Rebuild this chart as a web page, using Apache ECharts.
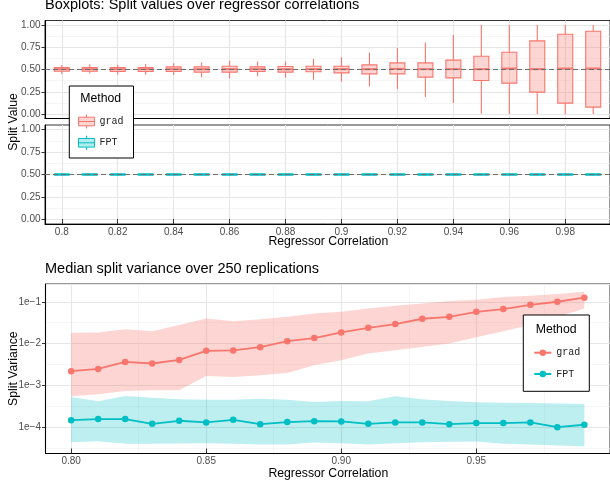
<!DOCTYPE html>
<html>
<head>
<meta charset="utf-8">
<script src="https://cdn.jsdelivr.net/npm/echarts@6/dist/echarts.min.js"></script>
<style>html,body{margin:0;padding:0;background:#fff}#c{width:610px;height:484px}</style>
</head>
<body>
<div id="c"></div>
<script>
// ---- data ----
const correlations = [0.80,0.81,0.82,0.83,0.84,0.85,0.86,0.87,0.88,0.89,0.90,0.91,0.92,0.93,0.94,0.95,0.96,0.97,0.98,0.99];

// Boxplot stats, grad
const gradLow  = [0.450,0.455,0.444,0.440,0.437,0.414,0.403,0.425,0.410,0.384,0.365,0.309,0.280,0.190,0.123,0.003,0.000,0.000,0.000,0.000];
const gradQ1   = [0.480,0.481,0.477,0.477,0.477,0.470,0.470,0.477,0.470,0.474,0.462,0.451,0.451,0.414,0.406,0.376,0.347,0.246,0.123,0.078];
const gradMed  = [0.503,0.503,0.503,0.503,0.503,0.503,0.504,0.503,0.503,0.504,0.504,0.504,0.507,0.504,0.504,0.504,0.511,0.504,0.511,0.511];
const gradQ3   = [0.522,0.522,0.522,0.522,0.530,0.530,0.537,0.530,0.533,0.537,0.537,0.552,0.574,0.574,0.605,0.649,0.694,0.821,0.896,0.929];
const gradHigh = [0.550,0.560,0.552,0.563,0.571,0.582,0.597,0.589,0.589,0.619,0.638,0.690,0.742,0.802,0.888,1.000,1.000,1.000,1.000,1.000];

// Boxplot stats, FPT
const fptLow  = [0.492,0.492,0.492,0.492,0.492,0.492,0.492,0.492,0.492,0.492,0.492,0.492,0.492,0.492,0.492,0.492,0.492,0.492,0.492,0.492];
const fptQ1   = [0.496,0.496,0.496,0.496,0.496,0.496,0.496,0.496,0.496,0.496,0.496,0.496,0.496,0.496,0.496,0.496,0.496,0.496,0.496,0.496];
const fptMed  = [0.500,0.500,0.500,0.500,0.500,0.500,0.500,0.500,0.500,0.500,0.500,0.500,0.500,0.500,0.500,0.500,0.500,0.500,0.500,0.500];
const fptQ3   = [0.504,0.504,0.504,0.504,0.504,0.504,0.504,0.504,0.504,0.504,0.504,0.504,0.504,0.504,0.504,0.504,0.504,0.504,0.504,0.504];
const fptHigh = [0.508,0.508,0.508,0.508,0.508,0.508,0.508,0.508,0.508,0.508,0.508,0.508,0.508,0.508,0.508,0.508,0.508,0.508,0.508,0.508];

// Median split variance and ribbons
const gradVar   = [2.18e-3,2.47e-3,3.64e-3,3.33e-3,4.06e-3,6.68e-3,6.83e-3,8.2e-3,1.14e-2,1.35e-2,1.85e-2,2.38e-2,2.92e-2,3.92e-2,4.36e-2,5.75e-2,6.68e-2,8.47e-2,0.100,0.125];
const gradVarLo = [5.48e-4,6.1e-4,7.3e-4,7.6e-4,7.6e-4,1.68e-3,1.59e-3,1.75e-3,1.98e-3,3.03e-3,3.98e-3,5.77e-3,6.93e-3,8.3e-3,1.0e-2,1.42e-2,1.98e-2,2.76e-2,4.3e-2,6.85e-2];
const gradVarHi = [1.81e-2,1.85e-2,2.21e-2,1.98e-2,2.76e-2,3.99e-2,3.44e-2,3.84e-2,4.36e-2,5.26e-2,5.75e-2,6.92e-2,8.0e-2,9.1e-2,0.104,0.112,0.130,0.139,0.153,0.174];
const fptVar    = [1.47e-4,1.56e-4,1.56e-4,1.2e-4,1.42e-4,1.3e-4,1.5e-4,1.18e-4,1.32e-4,1.39e-4,1.37e-4,1.2e-4,1.3e-4,1.3e-4,1.18e-4,1.25e-4,1.25e-4,1.3e-4,1.0e-4,1.14e-4];
const fptVarLo  = [4.37e-5,4.61e-5,3.99e-5,3.99e-5,4.05e-5,4.13e-5,3.99e-5,3.85e-5,3.85e-5,4.3e-5,4.13e-5,3.85e-5,4.13e-5,4.37e-5,4.46e-5,4.55e-5,3.99e-5,3.85e-5,3.64e-5,3.51e-5];
const fptVarHi  = [5.25e-4,4.14e-4,5.55e-4,5.07e-4,4.62e-4,4.54e-4,4.54e-4,4.8e-4,4.54e-4,3.98e-4,4.2e-4,4.14e-4,5.46e-4,4.62e-4,4.2e-4,3.92e-4,3.85e-4,3.78e-4,3.7e-4,3.57e-4];

// Axis breaks
const topXBreaks = [0.80,0.82,0.84,0.86,0.88,0.90,0.92,0.94,0.96,0.98];
const topYBreaks = [0,0.25,0.5,0.75,1];
const topYMinor  = [0.125,0.375,0.625,0.875];
const botXBreaks = [0.80,0.85,0.90,0.95];
const botXMinor  = [0.825,0.875,0.925,0.975];
const botYMinorExp = [-4.5,-3.5,-2.5,-1.5];
const refValue = 0.5;

// ---- styling ----
const RED = '#F8766D', CYAN = '#00BFC4';
const SANS = 'Liberation Sans', MONO = 'Liberation Mono';
const major = {color:'#E6E6E6', width:1.1};
const minor = {color:'#F2F2F2', width:0.7};
const tickCol = '#333';
const labCol = '#4D4D4D';
const TICKFS = 10;

const topXMin = 0.794, topXMax = 0.996;
const botXMin = 0.7905, botXMax = 0.9995;
const topYMin = -0.05, topYMax = 1.05;
const botYMin = 2.34e-5, botYMax = 0.266;

function topXAxis(grid, showLabels) {
  return {
    type:'value', gridIndex:grid, min:topXMin, max:topXMax,
    axisLine:{show:true, onZero:false, lineStyle:{color:'#000', width:1.1}},
    axisTick:{show:showLabels, inside:true, length:5, customValues:topXBreaks, lineStyle:{color:tickCol}},
    axisLabel:{show:showLabels, customValues:topXBreaks, margin:3, color:labCol, fontSize:TICKFS, fontFamily:SANS,
      formatter: v => String(parseFloat(Number(v).toFixed(2)))},
    splitLine:{show:true, lineStyle:major}
  };
}
function topYAxis(grid) {
  return {
    type:'value', gridIndex:grid, min:topYMin, max:topYMax,
    axisLine:{show:true, onZero:false, lineStyle:{color:'#000', width:1.1}},
    axisTick:{show:true, length:3.5, customValues:topYBreaks, lineStyle:{color:tickCol}},
    axisLabel:{customValues:topYBreaks, margin:4.5, color:labCol, fontSize:TICKFS, fontFamily:SANS,
      formatter: v => Number(v).toFixed(2)},
    splitLine:{show:true, lineStyle:major}
  };
}
function minorYAxis(grid) {
  return {
    type:'value', gridIndex:grid, min:topYMin, max:topYMax, position:'left',
    axisLine:{show:false}, axisTick:{show:false, customValues:topYMinor}, axisLabel:{show:false},
    splitLine:{show:true, lineStyle:minor}
  };
}

const boxIcon = 'path://M8,0L8,2.7M0,2.7L16,2.7L16,11.3L0,11.3ZM0,7L16,7M8,11.3L8,14';

// Boxplot drawn through the axes (ggplot-style: no whisker caps)
function boxSeries(name, xi, yi, lo, q1, med, q3, hi, fill, stroke, lw) {
  return {
    type:'custom', name:name, xAxisIndex:xi, yAxisIndex:yi, z:2, silent:true,
    data: correlations.map((c,i) => [c, lo[i], q1[i], med[i], q3[i], hi[i]]),
    encode:{x:0, y:[1,2,3,4,5]},
    itemStyle:{color:stroke},
    renderItem: function(params, api) {
      const x = api.value(0);
      const pLo = api.coord([x, api.value(1)]);
      const pQ1 = api.coord([x, api.value(2)]);
      const pMd = api.coord([x, api.value(3)]);
      const pQ3 = api.coord([x, api.value(4)]);
      const pHi = api.coord([x, api.value(5)]);
      const half = 7.5;
      const cx = pMd[0];
      const ls = {stroke:stroke, lineWidth:lw, fill:null};
      return {type:'group', children:[
        {type:'line', shape:{x1:cx, y1:pLo[1], x2:cx, y2:pQ1[1]}, style:ls},
        {type:'line', shape:{x1:cx, y1:pQ3[1], x2:cx, y2:pHi[1]}, style:ls},
        {type:'rect', shape:{x:cx-half, y:pQ3[1], width:2*half, height:pQ1[1]-pQ3[1]}, style:{fill:fill, stroke:stroke, lineWidth:lw}},
        {type:'line', shape:{x1:cx-half, y1:pMd[1], x2:cx+half, y2:pMd[1]}, style:{stroke:stroke, lineWidth:lw*1.8}}
      ]};
    }
  };
}

function ribbon(name, lo, hi, color) {
  return {
    type:'custom', name:name, xAxisIndex:2, yAxisIndex:4, z:2, silent:true,
    data: correlations.map((c,i) => [c, lo[i], hi[i]]),
    encode:{x:0, y:[1,2]},
    renderItem: function(params, api) {
      if (params.dataIndex !== 0) return null;
      const pts = [];
      for (let i = 0; i < correlations.length; i++) pts.push(api.coord([correlations[i], hi[i]]));
      for (let i = correlations.length - 1; i >= 0; i--) pts.push(api.coord([correlations[i], lo[i]]));
      return {type:'polygon', shape:{points:pts}, style:{fill:color}};
    }
  };
}

function refLine(xi, yi) {
  return {
    type:'line', name:'ref'+xi, xAxisIndex:xi, yAxisIndex:yi, data:[], z:1, silent:true,
    markLine:{silent:true, symbol:['none','none'], label:{show:false},
      lineStyle:{color:'#6E6E6E', width:1, type:[5,3]}, data:[{yAxis:refValue}]}
  };
}

const option = {
  animation:false,
  textStyle:{fontFamily:SANS},
  grid:[
    {left:45, right:-3, top:20.5, height:98, show:true, borderColor:'#333', borderWidth:1, backgroundColor:'#fff'},
    {left:45, right:-3, top:125, height:99, show:true, borderColor:'#333', borderWidth:1, backgroundColor:'#fff'},
    {left:45.5, right:-4, top:284, height:169.5, show:true, borderColor:'#333', borderWidth:1, backgroundColor:'#fff'}
  ],
  xAxis:[
    topXAxis(0, false),
    topXAxis(1, true),
    {
      type:'value', gridIndex:2, min:botXMin, max:botXMax,
      axisLine:{show:true, onZero:false, lineStyle:{color:'#000', width:1.1}},
      axisTick:{show:true, inside:true, length:5, customValues:botXBreaks, lineStyle:{color:tickCol}},
      axisLabel:{customValues:botXBreaks, margin:3, color:labCol, fontSize:TICKFS, fontFamily:SANS,
        formatter: v => Number(v).toFixed(2)},
      splitLine:{show:true, lineStyle:major}
    },
    {
      type:'value', gridIndex:2, min:botXMin, max:botXMax, position:'bottom',
      axisLine:{show:false}, axisTick:{show:false, customValues:botXMinor}, axisLabel:{show:false},
      splitLine:{show:true, lineStyle:minor}
    }
  ],
  yAxis:[
    topYAxis(0), minorYAxis(0),
    topYAxis(1), minorYAxis(1),
    {
      type:'log', logBase:10, gridIndex:2, min:botYMin, max:botYMax,
      axisLine:{show:true, onZero:false, lineStyle:{color:'#000', width:1.1}},
      axisTick:{show:true, length:3.5, lineStyle:{color:tickCol}},
      axisLabel:{margin:4.5, color:labCol, fontSize:TICKFS, fontFamily:SANS, showMinLabel:false, showMaxLabel:false,
        formatter: v => '1e\u2212' + Math.round(-Math.log10(v))},
      splitLine:{show:true, lineStyle:major}
    },
    {
      type:'value', gridIndex:2, min:Math.log10(botYMin), max:Math.log10(botYMax), position:'left',
      axisLine:{show:false}, axisTick:{show:false, customValues:botYMinorExp}, axisLabel:{show:false},
      splitLine:{show:true, lineStyle:minor}
    }
  ],
  legend:[
    {
      orient:'vertical', left:69.3, top:86, padding:[28,10,7.7,8.7],
      itemWidth:16, itemHeight:14, itemGap:6.3, selectedMode:false,
      backgroundColor:'#fff', borderColor:'#000', borderWidth:1, z:10,
      textStyle:{fontFamily:MONO, fontSize:10, color:'#222'},
      data:[
        {name:'grad', icon:boxIcon, itemStyle:{color:'rgba(248,118,109,0.3)', borderColor:RED, borderWidth:1}},
        {name:'FPT', icon:boxIcon, itemStyle:{color:'rgba(0,191,196,0.3)', borderColor:CYAN, borderWidth:1}}
      ]
    },
    {
      orient:'vertical', left:523.3, top:315, padding:[32.7,9,12.3,10],
      itemWidth:17, itemHeight:8, itemGap:11.3, selectedMode:false,
      backgroundColor:'#fff', borderColor:'#000', borderWidth:1, z:10,
      textStyle:{fontFamily:MONO, fontSize:10, color:'#222'},
      data:['grad','FPT']
    }
  ],
  graphic:[
    {type:'text', x:45, y:4.9, z:100, style:{text:'Boxplots: Split values over regressor correlations', fontFamily:SANS, fontSize:14.5, fill:'#000', align:'left', verticalAlign:'middle'}},
    {type:'text', x:45, y:269, z:100, style:{text:'Median split variance over 250 replications', fontFamily:SANS, fontSize:14.5, fill:'#000', align:'left', verticalAlign:'middle'}},
    {type:'text', x:13.3, y:122, rotation:Math.PI/2, z:100, style:{text:'Split Value', fontFamily:SANS, fontSize:12.25, fill:'#000', align:'center', verticalAlign:'middle'}},
    {type:'text', x:13.3, y:368.7, rotation:Math.PI/2, z:100, style:{text:'Split Variance', fontFamily:SANS, fontSize:12.25, fill:'#000', align:'center', verticalAlign:'middle'}},
    {type:'text', x:328.3, y:242, z:100, style:{text:'Regressor Correlation', fontFamily:SANS, fontSize:12.25, fill:'#000', align:'center', verticalAlign:'middle'}},
    {type:'text', x:328.3, y:474, z:100, style:{text:'Regressor Correlation', fontFamily:SANS, fontSize:12.25, fill:'#000', align:'center', verticalAlign:'middle'}},
    {type:'text', x:80.3, y:98.4, z:100, style:{text:'Method', fontFamily:SANS, fontSize:12.25, fill:'#000', align:'left', verticalAlign:'middle'}},
    {type:'text', x:535.7, y:329.7, z:100, style:{text:'Method', fontFamily:SANS, fontSize:12.25, fill:'#000', align:'left', verticalAlign:'middle'}}
  ],
  series:[
    {
      type:'line', name:'grad', xAxisIndex:2, yAxisIndex:4, z:3, silent:true,
      data: correlations.map((c,i) => [c, gradVar[i]]),
      symbol:'circle', symbolSize:6.5, showSymbol:true,
      lineStyle:{color:RED, width:1.8}, itemStyle:{color:RED}
    },
    {
      type:'line', name:'FPT', xAxisIndex:2, yAxisIndex:4, z:3, silent:true,
      data: correlations.map((c,i) => [c, fptVar[i]]),
      symbol:'circle', symbolSize:6.5, showSymbol:true,
      lineStyle:{color:CYAN, width:1.8}, itemStyle:{color:CYAN}
    },
    ribbon('gradBand', gradVarLo, gradVarHi, 'rgba(248,118,109,0.3)'),
    ribbon('fptBand', fptVarLo, fptVarHi, 'rgba(0,191,196,0.26)'),
    boxSeries('grad', 0, 0, gradLow, gradQ1, gradMed, gradQ3, gradHigh, 'rgba(248,118,109,0.3)', RED, 1.1),
    boxSeries('FPT', 1, 2, fptLow, fptQ1, fptMed, fptQ3, fptHigh, 'rgba(0,191,196,0.3)', CYAN, 1.2),
    refLine(0, 0),
    refLine(1, 2)
  ]
};

const chart = echarts.init(document.getElementById('c'), null, {renderer:'canvas'});
chart.setOption(option);
</script>
</body>
</html>
